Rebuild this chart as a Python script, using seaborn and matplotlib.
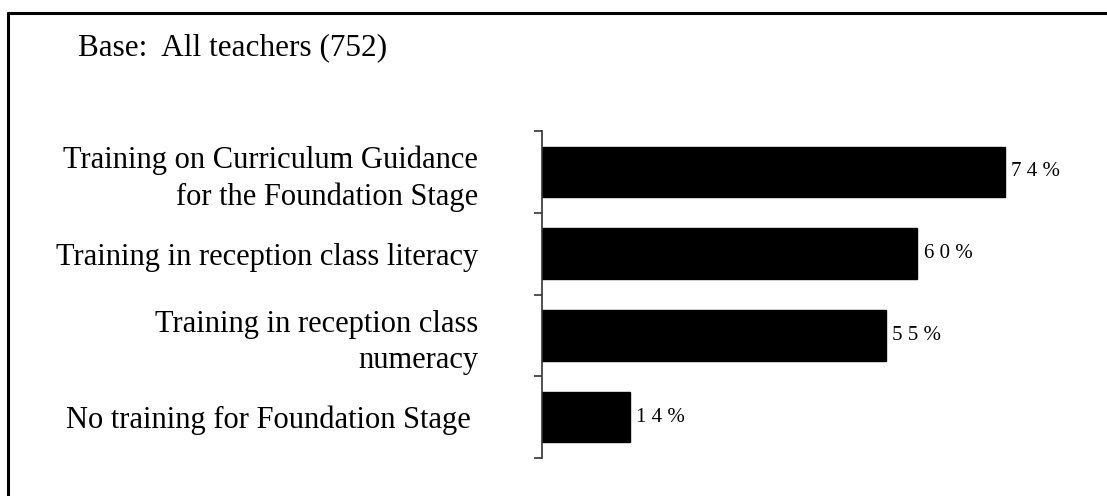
import pandas as pd
import matplotlib.pyplot as plt
import seaborn as sns
from matplotlib.lines import Line2D

categories = [
    'Training on Curriculum Guidance\nfor the Foundation Stage',
    'Training in reception class literacy',
    'Training in reception class\nnumeracy',
    'No training for Foundation Stage ',
]
values = [74, 60, 55, 14]
value_labels = ['7 4 %', '6 0 %', '5 5 %', '1 4 %']
base_text = 'Base:  All teachers (752)'

df = pd.DataFrame({'category': categories, 'value': values})

sns.set_style('white')
plt.rcParams['font.family'] = ['Liberation Serif', 'DejaVu Serif']
plt.rcParams['text.color'] = 'black'
plt.rcParams['ytick.color'] = 'black'
plt.rcParams['ytick.labelcolor'] = 'black'

fig = plt.figure(figsize=(11.07, 4.96), dpi=100)
# axes: y spine at x=542px, from y=131 to y=458px
ax = fig.add_axes([542 / 1107, 1 - 458 / 496, 565 / 1107, 327 / 496])

sns.barplot(data=df, x='value', y='category', orient='h', color='black',
            width=0.62, saturation=1, edgecolor='black', ax=ax)

ax.set_xlim(0, 90.3)
ax.set_ylim(3.5, -0.5)
ax.set_xlabel('')
ax.set_ylabel('')
ax.set_xticks([])
for s in ['top', 'right', 'bottom']:
    ax.spines[s].set_visible(False)
ax.spines['left'].set_color('#333333')
ax.spines['left'].set_linewidth(1.2)

ax.set_yticks(range(len(categories)))
ax.set_yticklabels(categories, fontsize=22, linespacing=1.32, color='black')
ax.tick_params(axis='y', which='major', left=True, length=0, pad=46)
ax.set_yticks([i - 0.5 for i in range(len(categories) + 1)], minor=True)
ax.tick_params(axis='y', which='minor', left=True, length=6, width=1.2, color='#333333')

for i, (v, lab) in enumerate(zip(values, value_labels)):
    ax.text(v + 1.0, i, lab, va='center', ha='left', fontsize=15, color='black')

fig.text(78 / 1107, 1 - 55 / 496, base_text, fontsize=22.5, va='baseline', ha='left',
         color='black')

# outer frame (top and left edges visible)
fig.add_artist(Line2D([8 / 1107, 8 / 1107], [0, 1 - 13 / 496], transform=fig.transFigure,
                      color='black', linewidth=2.2))
fig.add_artist(Line2D([8 / 1107, 1], [1 - 13 / 496, 1 - 13 / 496], transform=fig.transFigure,
                      color='black', linewidth=2.2))

plt.savefig('out.png', dpi=100)
plt.close()
